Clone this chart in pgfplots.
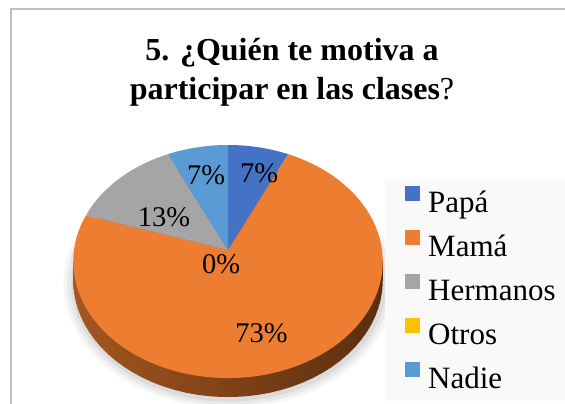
\documentclass[border=0pt]{standalone}
\usepackage{fontspec}
\setmainfont{Liberation Serif}[BoldFont={Liberation Serif Bold}]
\usepackage{pgfplots}
\pgfplotsset{compat=1.18}
\definecolor{papa}{HTML}{4472C4}
\definecolor{mama}{HTML}{ED7D31}
\definecolor{herm}{HTML}{A5A5A5}
\definecolor{otros}{HTML}{FFC000}
\definecolor{nadie}{HTML}{5B9BD5}
\definecolor{sideL}{HTML}{A4561F}
\definecolor{sideM}{HTML}{6B3715}
\definecolor{sideR}{HTML}{5A2E10}
\definecolor{frame}{HTML}{BFBFBF}
% data (percent): Papa 7, Mama 73, Hermanos 13, Otros 0, Nadie 7
\begin{document}
\begin{tikzpicture}
\begin{axis}[
  width=565bp, height=404bp, scale only axis,
  xmin=0, xmax=565, ymin=0, ymax=404, y dir=reverse,
  hide axis, clip=false, samples=90,
  legend image code/.code={\fill[#1] (0bp,3bp) rectangle (15bp,18bp);},
  legend cell align=left,
  legend style={at={(axis cs:385,180)}, anchor=north west, fill=black!2.5, draw=none,
    inner xsep=20bp, inner ysep=6bp, row sep=11bp,
    font=\fontsize{31bp}{36bp}\selectfont,
    nodes={inner sep=0pt, text height=23bp, text depth=7bp},
    /tikz/every odd column/.append style={column sep=8bp}},
]
\coordinate (BL) at (axis cs:0,404);
\coordinate (TR) at (axis cs:565,0);
\draw[frame, line width=1.5bp] (axis cs:11,404) -- (axis cs:11,9) -- (axis cs:565,9);
% soft shadow
\addplot[forget plot, draw=none, fill=black, fill opacity=0.04, domain=0:360]
  ({229+1.07*154*sin(x)/(1+0.099*cos(x))}, {271-1.07*115.4*cos(x)/(1+0.099*cos(x))}) -- cycle;
\addplot[forget plot, draw=none, fill=black, fill opacity=0.05, domain=0:360]
  ({229+1.045*154*sin(x)/(1+0.099*cos(x))}, {271-1.045*115.4*cos(x)/(1+0.099*cos(x))}) -- cycle;
\addplot[forget plot, draw=none, fill=black, fill opacity=0.06, domain=0:360]
  ({229+1.02*154*sin(x)/(1+0.099*cos(x))}, {271-1.02*115.4*cos(x)/(1+0.099*cos(x))}) -- cycle;
% side of the pie
\addplot[forget plot, draw=none, left color=sideL, middle color=sideM, right color=sideR, domain=0:360]
  ({228+154*sin(x)/(1+0.099*cos(x))}, {269-115.4*cos(x)/(1+0.099*cos(x))}) -- cycle;
\addplot[forget plot, draw=none, left color=sideL, middle color=sideM, right color=sideR]
  coordinates {(73.3,261.5) (382.8,261.5) (382.8,280.5) (73.3,280.5)} -- cycle;
% slices (angle = 3.6 * cumulative percent, clockwise from top)
\addplot[fill=papa, draw=none, domain={3.6*0}:{3.6*7}]
  ({228+154*sin(x)/(1+0.099*cos(x))}, {250-115.4*cos(x)/(1+0.099*cos(x))}) -- (axis cs:228,250) -- cycle;
\addplot[fill=mama, draw=none, domain={3.6*7}:{3.6*(7+73)}]
  ({228+154*sin(x)/(1+0.099*cos(x))}, {250-115.4*cos(x)/(1+0.099*cos(x))}) -- (axis cs:228,250) -- cycle;
\addplot[fill=herm, draw=none, domain={3.6*(7+73)}:{3.6*(7+73+13)}]
  ({228+154*sin(x)/(1+0.099*cos(x))}, {250-115.4*cos(x)/(1+0.099*cos(x))}) -- (axis cs:228,250) -- cycle;
\addlegendimage{fill=otros, draw=none}
\addplot[fill=nadie, draw=none, domain={3.6*(7+73+13+0)}:{3.6*(7+73+13+0+7)}]
  ({228+154*sin(x)/(1+0.099*cos(x))}, {250-115.4*cos(x)/(1+0.099*cos(x))}) -- (axis cs:228,250) -- cycle;
\legend{Papá, Mamá, Hermanos, Otros, Nadie}
% data labels
\node[anchor=base, inner sep=0pt, font=\fontsize{28.5bp}{34bp}\selectfont] at (axis cs:259,182) {7\%};
\node[anchor=base, inner sep=0pt, font=\fontsize{28.5bp}{34bp}\selectfont] at (axis cs:206,184) {7\%};
\node[anchor=base, inner sep=0pt, font=\fontsize{28.5bp}{34bp}\selectfont] at (axis cs:164,226.5) {13\%};
\node[anchor=base, inner sep=0pt, font=\fontsize{28.5bp}{34bp}\selectfont] at (axis cs:221,273) {0\%};
\node[anchor=base, inner sep=0pt, font=\fontsize{28.5bp}{34bp}\selectfont] at (axis cs:261.5,342.5) {73\%};
% title
\node[anchor=base, inner sep=0pt, font=\fontsize{32bp}{39bp}\selectfont\bfseries] at (axis cs:292,60) {5. ¿Quién te motiva a};
\node[anchor=base, inner sep=0pt, font=\fontsize{32bp}{39bp}\selectfont\bfseries] at (axis cs:292,99) {participar en las clases\textmd{?}};
\end{axis}
\pgfresetboundingbox
\useasboundingbox (BL) rectangle (TR);
\end{tikzpicture}
\end{document}
